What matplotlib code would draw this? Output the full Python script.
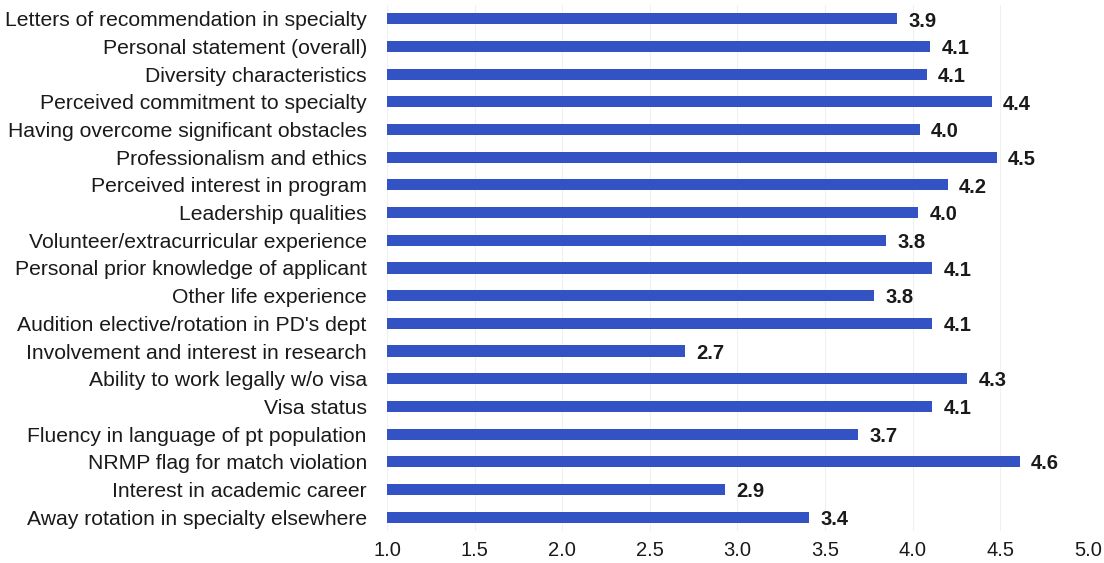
import matplotlib
matplotlib.use("Agg")
import matplotlib.pyplot as plt

categories = [
    "Letters of recommendation in specialty",
    "Personal statement (overall)",
    "Diversity characteristics",
    "Perceived commitment to specialty",
    "Having overcome significant obstacles",
    "Professionalism and ethics",
    "Perceived interest in program",
    "Leadership qualities",
    "Volunteer/extracurricular experience",
    "Personal prior knowledge of applicant",
    "Other life experience",
    "Audition elective/rotation in PD's dept",
    "Involvement and interest in research",
    "Ability to work legally w/o visa",
    "Visa status",
    "Fluency in language of pt population",
    "NRMP flag for match violation",
    "Interest in academic career",
    "Away rotation in specialty elsewhere",
]
values = [3.91, 4.10, 4.08, 4.45, 4.04, 4.48, 4.20, 4.03, 3.85, 4.11,
          3.78, 4.11, 2.70, 4.31, 4.11, 3.69, 4.61, 2.93, 3.41]
value_labels = ["3.9", "4.1", "4.1", "4.4", "4.0", "4.5", "4.2", "4.0", "3.8", "4.1",
                "3.8", "4.1", "2.7", "4.3", "4.1", "3.7", "4.6", "2.9", "3.4"]
xticks = [1.0, 1.5, 2.0, 2.5, 3.0, 3.5, 4.0, 4.5, 5.0]

plt.rcParams['font.family'] = ['Liberation Sans', 'DejaVu Sans']

fig = plt.figure(figsize=(11.04, 5.63), dpi=100)
ax = fig.add_axes([0.3505, 0.057, 0.635, 0.934])

base = 1.0
ypos = list(range(len(categories)))
ax.barh(ypos, [v - base for v in values], left=base, height=0.4, color='#3352c4', zorder=2)
for y, v, lab in zip(ypos, values, value_labels):
    ax.text(v + 0.065, y + 0.08, lab, va='center', ha='left', fontsize=14.5,
            fontweight='bold', color='#1a1a1a')

ax.set_xlim(1.0, 5.0)
ax.set_ylim(len(categories) - 0.5, -0.5)
ax.set_yticks(ypos)
ax.set_yticklabels(categories, fontsize=15.2, color='#1a1a1a')
ax.set_xticks(xticks)
ax.set_xticklabels([f"{t:.1f}" for t in xticks], fontsize=14.5, color='#1a1a1a')
ax.tick_params(axis='y', length=0, pad=14.5)
ax.tick_params(axis='x', length=0, pad=7.5)
for s in ax.spines.values():
    s.set_visible(False)
ax.grid(axis='x', color='#f0f0f0', linewidth=0.8, zorder=0)
ax.set_axisbelow(True)

fig.savefig("out.png", dpi=100)
